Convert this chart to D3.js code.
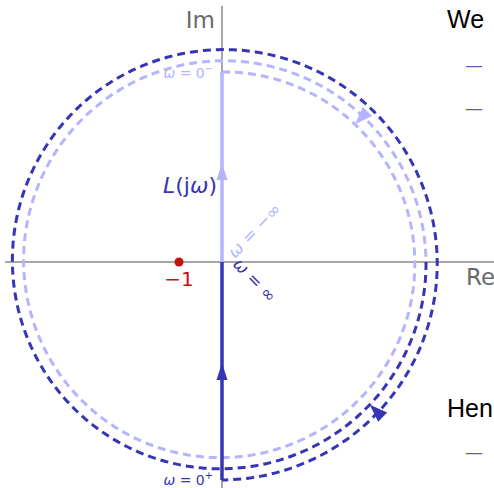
<!DOCTYPE html>
<html>
<head>
<meta charset="utf-8">
<script src="https://cdn.jsdelivr.net/npm/d3@7"></script>
<style>
  html, body { margin: 0; padding: 0; background: #fff; }
  svg { display: block; font-family: "DejaVu Sans", sans-serif; }
</style>
</head>
<body>
<svg id="chart" width="494" height="488"></svg>
<script>
// Nyquist contour of an integrator-type loop L(s): the imaginary-axis branches
// and the large spiral traced while going around the pole at the origin.

const colors = { pos: "#3535b5", neg: "#b4b4ff", axis: "#8a8a8a", label: "#6a6a6a", crit: "#c80f0f" };

// Imaginary-axis branches (Re, Im endpoints) and where their arrows sit
const posBranch = [[0, -2.18], [0, 0]];     // ω = 0+ → ∞
const negBranch = [[0, 0], [0, 1.90]];      // ω = −∞ → 0−
const branchArrowIm = [-1.01, 0.99];

// Spiral at "infinity": start/end radius, swept turn (degrees, clockwise from +Im)
const spiralRadius = [1.90, 2.18];
const spiralSweep = 900;
const spiralSplit = 450;                    // negative part before, positive part after
const spiralArrowAt = [44, 494];

// Critical point
const critical = [[-0.43, 0]];

// Plot window in the complex plane
const reDomain = [-2.22, 2.72];
const imDomain = [2.62, -2.26];

const W = 494, H = 488;
const svg = d3.select("#chart");
const x = d3.scaleLinear().domain(reDomain).range([0, W]);
const y = d3.scaleLinear().domain(imDomain).range([0, H]);
const r = d3.scaleLinear().domain([0, 1]).range([0, x(1) - x(0)]);
const cx = x(0), cy = y(0);

// Axes
svg.append("line").attr("x1", 5).attr("x2", W).attr("y1", cy).attr("y2", cy)
  .attr("stroke", colors.axis).attr("stroke-width", 1.5);
svg.append("line").attr("x1", cx).attr("x2", cx).attr("y1", 6).attr("y2", H)
  .attr("stroke", colors.axis).attr("stroke-width", 1.5);
svg.append("text").attr("x", 215).attr("y", 28).attr("text-anchor", "end")
  .attr("font-size", 23).attr("fill", colors.label).text("Im");
svg.append("text").attr("x", 466).attr("y", 285).attr("text-anchor", "start")
  .attr("font-size", 23).attr("fill", colors.label).text("Re");

// Spiral
const radiusAt = d3.scaleLinear().domain([0, spiralSweep]).range(spiralRadius);
const degs = (a, b) => d3.range(a, b + 0.5, 1);
const radial = d3.lineRadial().angle(d => d * Math.PI / 180).radius(d => r(radiusAt(d)));
const spiralG = svg.append("g").attr("transform", `translate(${cx},${cy})`);
spiralG.append("path").attr("d", radial(degs(0, spiralSplit)))
  .attr("fill", "none").attr("stroke", colors.neg).attr("stroke-width", 3).attr("stroke-dasharray", "8,5");
spiralG.append("path").attr("d", radial(degs(spiralSplit, spiralSweep)))
  .attr("fill", "none").attr("stroke", colors.pos).attr("stroke-width", 3).attr("stroke-dasharray", "8,5");

const arrowHead = "M0,0 L-18,-6.5 L-18,6.5 Z";
spiralArrowAt.forEach(d => {
  const a = d * Math.PI / 180, rr = r(radiusAt(d));
  const px = rr * Math.sin(a), py = -rr * Math.cos(a);
  const dir = d + 90; // tangent of clockwise motion
  spiralG.append("path").attr("d", arrowHead)
    .attr("transform", `translate(${px},${py}) rotate(${dir})`)
    .attr("fill", d > spiralSplit ? colors.pos : colors.neg);
});

// Imaginary-axis branches
const seg = d3.line().x(d => x(d[0])).y(d => y(d[1]));
svg.append("path").attr("d", seg(negBranch)).attr("stroke", colors.neg).attr("stroke-width", 3.5).attr("fill", "none");
svg.append("path").attr("d", seg(posBranch)).attr("stroke", colors.pos).attr("stroke-width", 3.5).attr("fill", "none");
branchArrowIm.forEach((v, i) => {
  svg.append("path").attr("d", "M0,0 L-17,-5.5 L-17,5.5 Z")
    .attr("transform", `translate(${x(0)},${y(v)}) rotate(-90)`)
    .attr("fill", i === 0 ? colors.pos : colors.neg);
});

// Critical point −1
svg.selectAll("circle.crit").data(critical).join("circle")
  .attr("cx", d => x(d[0])).attr("cy", d => y(d[1])).attr("r", 4.5).attr("fill", colors.crit);
svg.append("text").attr("x", x(critical[0][0])).attr("y", 286).attr("text-anchor", "middle")
  .attr("font-size", 20).attr("fill", colors.crit).text("−1");

// Labels
const lj = svg.append("text").attr("x", 217).attr("y", 193).attr("text-anchor", "end")
  .attr("font-size", 22).attr("fill", colors.pos);
lj.append("tspan").attr("font-style", "italic").text("L");
lj.append("tspan").text("(j");
lj.append("tspan").attr("font-style", "italic").text("ω");
lj.append("tspan").text(")");

function omegaLabel(xp, yp, rest, sup, color, angle, anchor, size) {
  const t = svg.append("text").attr("font-size", size).attr("fill", color)
    .attr("text-anchor", anchor)
    .attr("transform", `translate(${xp},${yp}) rotate(${angle})`);
  t.append("tspan").attr("font-style", "italic").text("ω");
  t.append("tspan").text(rest);
  if (sup) t.append("tspan").attr("font-size", size * 0.7).attr("dy", -6).text(sup);
  return t;
}
omegaLabel(213, 78, " = 0", "−", colors.neg, 0, "end", 14);
omegaLabel(213, 485, " = 0", "+", colors.pos, 0, "end", 14);
omegaLabel(235, 259, " = −∞", null, colors.neg, -46, "start", 17);
omegaLabel(232, 265, " = ∞", null, colors.pos, 46, "start", 17);

// Side notes at the right edge
const note = { family: "Liberation Sans", size: 25 };
svg.append("text").attr("x", 447).attr("y", 28).attr("font-family", note.family)
  .attr("font-size", note.size).attr("fill", "#000").text("We");
svg.append("text").attr("x", 447).attr("y", 417).attr("font-family", note.family)
  .attr("font-size", note.size).attr("fill", "#000").text("Hen");
[71, 114, 458].forEach(yy => {
  svg.append("text").attr("x", 465).attr("y", yy).attr("font-size", 18).attr("fill", "#5a5acc").text("—");
});
</script>
</body>
</html>
